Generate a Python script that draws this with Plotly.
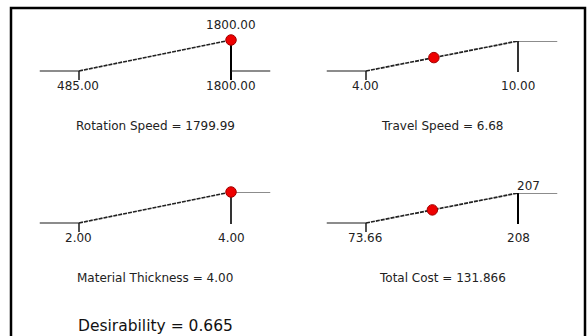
import numpy as np
import plotly.graph_objects as go

# ---- data ----
factor_names = ["Rotation Speed", "Travel Speed", "Material Thickness", "Total Cost"]
low_values = [485.00, 4.00, 2.00, 73.66]
high_values = [1800.00, 10.00, 4.00, 207.0]
current_values = [1799.99, 6.68, 4.00, 131.866]
value_texts = ["1799.99", "6.68", "4.00", "131.866"]
low_labels = ["485.00", "4.00", "2.00", "73.66"]
high_labels = ["1800.00", "10.00", "4.00", "208"]
top_labels = ["1800.00", "", "", "207"]
right_levels = [0, 1, 1, 1]          # desirability beyond the high limit
desirability = 0.665

# ---- layout (pixels) ----
W, H = 587, 336
low_px = [79, 366, 79, 366]
high_px = [231, 518, 231, 518]
base_px = [71, 71, 223, 223]
top_px = [40, 41, 192, 193]
EXT = 39.5      # flat-line extension in px
DROP = 9        # tick drop below baseline in px
FONT = "DejaVu Sans"
INK = "#1a1a1a"

def px_x(x):
    return x / W

def px_y(y):
    return 1 - y / H

fig = go.Figure()
annotations = []
for i in range(4):
    lo, hi, v = low_values[i], high_values[i], current_values[i]
    span_px = high_px[i] - low_px[i]
    ext = EXT / span_px * (hi - lo)
    xr = [lo - ext, hi + ext]
    unit = base_px[i] - top_px[i]
    ymin = -DROP / unit
    xa = "x" if i == 0 else f"x{i+1}"
    ya = "y" if i == 0 else f"y{i+1}"
    xkey = "xaxis" if i == 0 else f"xaxis{i+1}"
    ykey = "yaxis" if i == 0 else f"yaxis{i+1}"
    fig.update_layout({
        xkey: dict(domain=[px_x(low_px[i] - EXT), px_x(high_px[i] + EXT)], range=xr,
                   visible=False, fixedrange=True, anchor=ya),
        ykey: dict(domain=[px_y(base_px[i] + DROP), px_y(top_px[i])], range=[ymin, 1],
                   visible=False, fixedrange=True, anchor=xa),
    })
    line = dict(color=INK, width=1.2)
    # left flat line
    fig.add_trace(go.Scatter(x=[xr[0], lo], y=[0, 0], mode="lines", line=line,
                             xaxis=xa, yaxis=ya, cliponaxis=False))
    # tick at low limit
    fig.add_trace(go.Scatter(x=[lo, lo], y=[0, ymin], mode="lines", line=dict(color=INK, width=1.5),
                             xaxis=xa, yaxis=ya, cliponaxis=False))
    # rising ramp
    fig.add_trace(go.Scatter(x=[lo, hi], y=[0, 1], mode="lines",
                             line=dict(color="#222222", width=1.7, dash="4px,1px"),
                             xaxis=xa, yaxis=ya, cliponaxis=False))
    # vertical at high limit
    vbottom = ymin if right_levels[i] == 0 else -1.0 / unit
    fig.add_trace(go.Scatter(x=[hi, hi], y=[1, vbottom], mode="lines",
                             line=dict(color="#000000", width=2 if i in (0, 3) else 1.6),
                             xaxis=xa, yaxis=ya, cliponaxis=False))
    # right flat line
    fig.add_trace(go.Scatter(x=[hi, xr[1]], y=[right_levels[i]] * 2, mode="lines", line=line,
                             xaxis=xa, yaxis=ya, cliponaxis=False))
    # current setting
    d = float(np.interp(v, [lo, hi], [0, 1]))
    fig.add_trace(go.Scatter(x=[v], y=[d], mode="markers",
                             marker=dict(color="#ee0000", size=10.5, line=dict(color="#a00000", width=1)),
                             xaxis=xa, yaxis=ya, cliponaxis=False))
    small = dict(family=FONT, size=12, color="#222222")
    annotations.append(dict(x=lo, y=0, xref=xa, yref=ya, text=low_labels[i], showarrow=False,
                            xanchor="center", yanchor="top", yshift=-6, xshift=-1, font=small))
    annotations.append(dict(x=hi, y=0, xref=xa, yref=ya, text=high_labels[i], showarrow=False,
                            xanchor="center", yanchor="top", yshift=-6, font=small))
    if top_labels[i]:
        if i == 0:
            annotations.append(dict(x=hi, y=1, xref=xa, yref=ya, text=top_labels[i], showarrow=False,
                                    xanchor="center", yanchor="bottom", yshift=6, font=small))
        else:
            annotations.append(dict(x=hi, y=1, xref=xa, yref=ya, text=top_labels[i], showarrow=False,
                                    xanchor="left", yanchor="bottom", yshift=-2, xshift=-3, font=small))
    annotations.append(dict(x=0.5, y=0, xref=f"{xa} domain", yref=ya,
                            text=f"{factor_names[i]} = {value_texts[i]}", showarrow=False,
                            xanchor="center", yanchor="middle", yshift=-55,
                            font=dict(family=FONT, size=12, color="#222222")))

annotations.append(dict(x=0.5, y=px_y(325.5), xref="x3 domain", yref="paper",
                        text=f"Desirability = {desirability:.3f}", showarrow=False,
                        xanchor="center", yanchor="middle",
                        font=dict(family=FONT, size=15.5, color="#111111")))

fig.update_layout(
    width=W, height=H, margin=dict(l=0, r=0, t=0, b=0),
    paper_bgcolor="white", plot_bgcolor="rgba(0,0,0,0)",
    showlegend=False, annotations=annotations,
    shapes=[dict(type="rect", xref="paper", yref="paper",
                 x0=px_x(11), x1=px_x(585), y0=px_y(345), y1=px_y(8),
                 line=dict(color="#000000", width=2.5), fillcolor="rgba(0,0,0,0)")],
)
fig.write_html("out.html")
